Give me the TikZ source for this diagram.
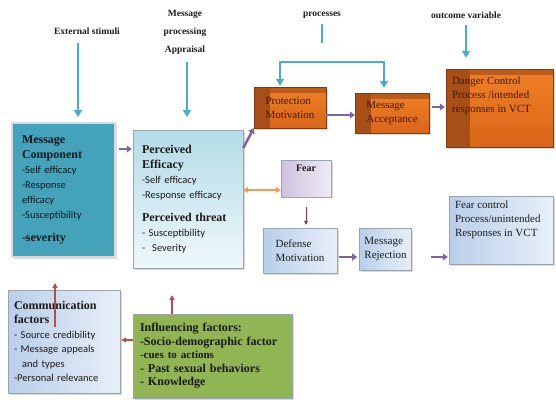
\documentclass[tikz,border=0pt]{standalone}
\usepackage{fontspec}
\setmainfont{Liberation Serif}
\newfontfamily\bodyfont{Carlito}
\usetikzlibrary{shadows}
\usetikzlibrary{positioning}
\usetikzlibrary{arrows.meta,calc}

\definecolor{arrowteal}{HTML}{4BACC6}
\definecolor{arrowpurple}{HTML}{8064A2}
\definecolor{arrowred}{HTML}{B0504D}
\definecolor{arrowdarkred}{HTML}{8B3A3A}
\definecolor{arroworange}{HTML}{F39A55}
\definecolor{orangedark}{HTML}{A84E17}
\definecolor{orangemid}{HTML}{D9661A}
\definecolor{orangelight}{HTML}{EF7F25}
\definecolor{orangeedge}{HTML}{7A3C12}
\definecolor{orangetext}{HTML}{3A1A05}
\definecolor{tealfill}{HTML}{45A2BB}
\definecolor{tealedge}{HTML}{D5DBE0}
\definecolor{cyanlight}{HTML}{B4DCE8}
\definecolor{cyanpale}{HTML}{EEF7FA}
\definecolor{bluelight}{HTML}{B9CFEA}
\definecolor{bluepale}{HTML}{E8EFF8}
\definecolor{fearlight}{HTML}{CDC2DE}
\definecolor{fearpale}{HTML}{EFEBF5}
\definecolor{greenfill}{HTML}{92B553}
\definecolor{boxedge}{HTML}{9AA4B0}
\definecolor{inktext}{HTML}{1A1A1A}

\begin{document}
\begin{tikzpicture}
  [x=1pt,y=-1pt,
  toplabel/.style={font=\fontsize{9.5}{18}\selectfont\bfseries,align=center,inner sep=1pt,text=inktext},
  tealarrow/.style={draw=arrowteal,line width=2.6pt,-{Triangle[width=8pt,length=7pt]}},
  tealline/.style={draw=arrowteal,line width=2.6pt},
  purplearrow/.style={draw=arrowpurple,line width=2.6pt,-{Triangle[width=7pt,length=5pt]}},
  redarrow/.style={draw=arrowred,line width=1.2pt,-{Triangle[width=5pt,length=5pt]}},
  darkredarrow/.style={draw=arrowdarkred,line width=0.9pt,-{Triangle[width=4pt,length=4pt]}},
  orangearrow/.style={draw=arroworange,line width=1.8pt,{Triangle[width=6pt,length=5pt]}-{Triangle[width=6pt,length=5pt]}},
  box/.style={rectangle,inner sep=5pt,align=left,text=inktext,
    drop shadow={opacity=0.3,shadow xshift=1.5pt,shadow yshift=-1.5pt}},
  orangebox/.style={box,draw=orangeedge,top color=orangelight,bottom color=orangemid,
    text=orangetext,font=\fontsize{11}{14}\selectfont,
    path picture={
      \fill[orangedark,opacity=0.7] (path picture bounding box.north west) rectangle ([yshift=-6pt]path picture bounding box.north east);
      \fill[orangedark] (path picture bounding box.north west) rectangle ($(path picture bounding box.south west)!0.22!(path picture bounding box.south east)$);}},
  tealbox/.style={box,draw=tealedge,line width=2pt,fill=tealfill,inner xsep=10pt,
    text=black!85!tealfill,font=\fontsize{10.5}{15}\selectfont},
  cyanbox/.style={box,draw=boxedge,top color=cyanlight,bottom color=cyanpale,inner xsep=9pt,
    font=\fontsize{10.5}{15}\selectfont},
  bluebox/.style={box,draw=boxedge,left color=bluelight,right color=bluepale,
    font=\fontsize{11}{14}\selectfont},
  fearbox/.style={box,draw=boxedge,left color=fearlight,right color=fearpale,
    font=\fontsize{10}{12}\selectfont\bfseries},
  greenbox/.style={box,draw=boxedge,fill=greenfill,inner xsep=7pt,
    font=\fontsize{12}{13.5}\selectfont\bfseries}]
  \useasboundingbox (0,0) rectangle (556,399);

  % top labels
  \node[toplabel] (ext) at (87,31) {External stimuli};
  \node[toplabel] (msgproc) at (185,32) {Message\\processing\\Appraisal};
  \node[toplabel] (proc) at (322,15) {processes};
  \node[toplabel] (outc) at (466,15) {outcome variable};

  % boxes
  \node[orangebox,minimum width=72pt,minimum height=41pt] (protmot) at (290,107.5) {Protection\\Motivation};
  \node[orangebox,minimum width=74pt,minimum height=40pt] (msgacc) at (392,113) {Message\\Acceptance};
  \node[orangebox,minimum width=107pt,minimum height=78pt,
    label={[anchor=north west,align=left,text=orangetext,font=\fontsize{11}{14}\selectfont,inner sep=0pt,yshift=-8pt]
      north west:{\hspace*{6pt}Danger Control\\\hspace*{6pt}Process /intended\\\hspace*{6pt}responses in VCT}}] (danger) at (499.5,108) {};
  \node[tealbox,minimum width=103pt,minimum height=134pt,text width=83pt] (msgcomp) at (63.5,190) {%
    {\bfseries\fontsize{12}{14}\selectfont Message\\Component}\\
    \bodyfont -Self efficacy\\-Response\\efficacy\\-Susceptibility\\[8pt]
    {\rmfamily\bfseries\fontsize{12}{14}\selectfont -severity}};
  \node[cyanbox,minimum width=110pt,minimum height=138pt,text width=92pt] (perceived) at (188,199) {%
    {\bfseries\fontsize{12}{14}\selectfont Perceived\\Efficacy}\\
    {\bodyfont -Self efficacy\\-Response efficacy}\\[8pt]
    {\bfseries\fontsize{12}{14}\selectfont Perceived threat}\\
    {\bodyfont - Susceptibility\\-\ \ Severity}};
  \node[fearbox,minimum width=50pt,minimum height=33pt] (fear) at (306,178.5) {Fear\\[8pt]};
  \node[bluebox,minimum width=74pt,minimum height=45pt] (defense) at (300,250.5) {Defense\\Motivation};
  \node[bluebox,minimum width=50pt,minimum height=42pt] (msgrej) at (385.5,249) {Message\\Rejection};
  \node[bluebox,minimum width=104pt,minimum height=68pt,
    label={[anchor=north west,align=left,text=inktext,font=\fontsize{11}{14}\selectfont,inner sep=0pt]
      north west:{\hspace*{6pt}\rule{0pt}{12pt}Fear control\\\hspace*{6pt}Process/unintended\\\hspace*{6pt}Responses in VCT}}] (fcontrol) at (501,230) {};
  \node[bluebox,minimum width=112pt,minimum height=103pt,text width=100pt,inner xsep=6pt,
    font=\fontsize{10.5}{14.5}\selectfont] (comm) at (64,341.5) {%
    {\bfseries\fontsize{12}{14}\selectfont Communication\\factors}\\
    \bodyfont - Source credibility\\- Message appeals\\\hspace*{8pt}and types\\-Personal relevance};
  \node[greenbox,minimum width=159pt,minimum height=84pt,text width=145pt] (infl) at (212.5,356) {%
    Influencing factors:\\-Socio-demographic factor\\{\fontsize{11}{13.5}\selectfont -cues to actions}\\
    - Past sexual behaviors\\- Knowledge};

  % coordinates for free ends
  \coordinate (extend) at (78,117);
  \coordinate (procend) at (187,117);
  \coordinate (procjoin) at (322,43);
  \coordinate (bl) at (280,62);
  \coordinate (br) at (384,62);
  \coordinate (influp) at (172,295);
  \coordinate (commin) at (55,327);
  \coordinate (commtop) at (55,283);

  % teal arrows
  \draw[tealarrow,shorten <=7pt] (ext.south -| extend) -- (extend);
  \draw[tealarrow,shorten <=7pt] (msgproc.south -| procend) -- (procend);
  \draw[tealline,shorten <=5pt] (proc.south) -- (procjoin);
  \draw[tealarrow] (bl) -- ([yshift=1pt]bl |- protmot.north);
  \draw[tealarrow,shorten >=5pt] (br) -- (br |- msgacc.north);
  \draw[tealline] ([xshift=-1.3pt]bl) -- ([xshift=1.3pt]br);
  \draw[tealarrow,shorten <=5pt,shorten >=11pt] (outc.south) -- (danger.north -| outc);

  % purple arrows
  \draw[purplearrow,shorten <=3pt,shorten >=1pt] ([yshift=41pt]msgcomp.east) -- ([yshift=41pt]msgcomp.east -| perceived.west);
  \draw[purplearrow] ([yshift=51pt]perceived.east) -- (protmot.south west);
  \draw[purplearrow] ([yshift=-7.5pt]protmot.east) -- ([yshift=-7.5pt]protmot.east -| msgacc.west);
  \draw[purplearrow,shorten <=3pt,shorten >=1pt] ([yshift=6pt]msgacc.east) -- ([yshift=6pt]msgacc.east -| danger.west);
  \draw[purplearrow,shorten <=2pt,shorten >=2pt] ([yshift=-6.5pt]defense.east) -- ([yshift=-6.5pt]defense.east -| msgrej.west);
  \draw[purplearrow,shorten <=19pt,shorten >=1pt] ([yshift=-8pt]msgrej.east) -- ([yshift=-8pt]msgrej.east -| fcontrol.west);

  % other arrows
  \draw[orangearrow] ([yshift=9pt]perceived.east) -- ([yshift=9pt]perceived.east -| fear.west);
  \draw[darkredarrow,shorten <=10pt,shorten >=3pt] (fear.south) -- (fear.south |- defense.north);
  \draw[redarrow,shorten >=1pt] ([yshift=16pt]infl.west) -- ([yshift=16pt]infl.west -| comm.east);
  \draw[redarrow] (infl.north -| influp) -- (influp);
  \draw[redarrow] (commin) -- (commtop);

\end{tikzpicture}
\end{document}
